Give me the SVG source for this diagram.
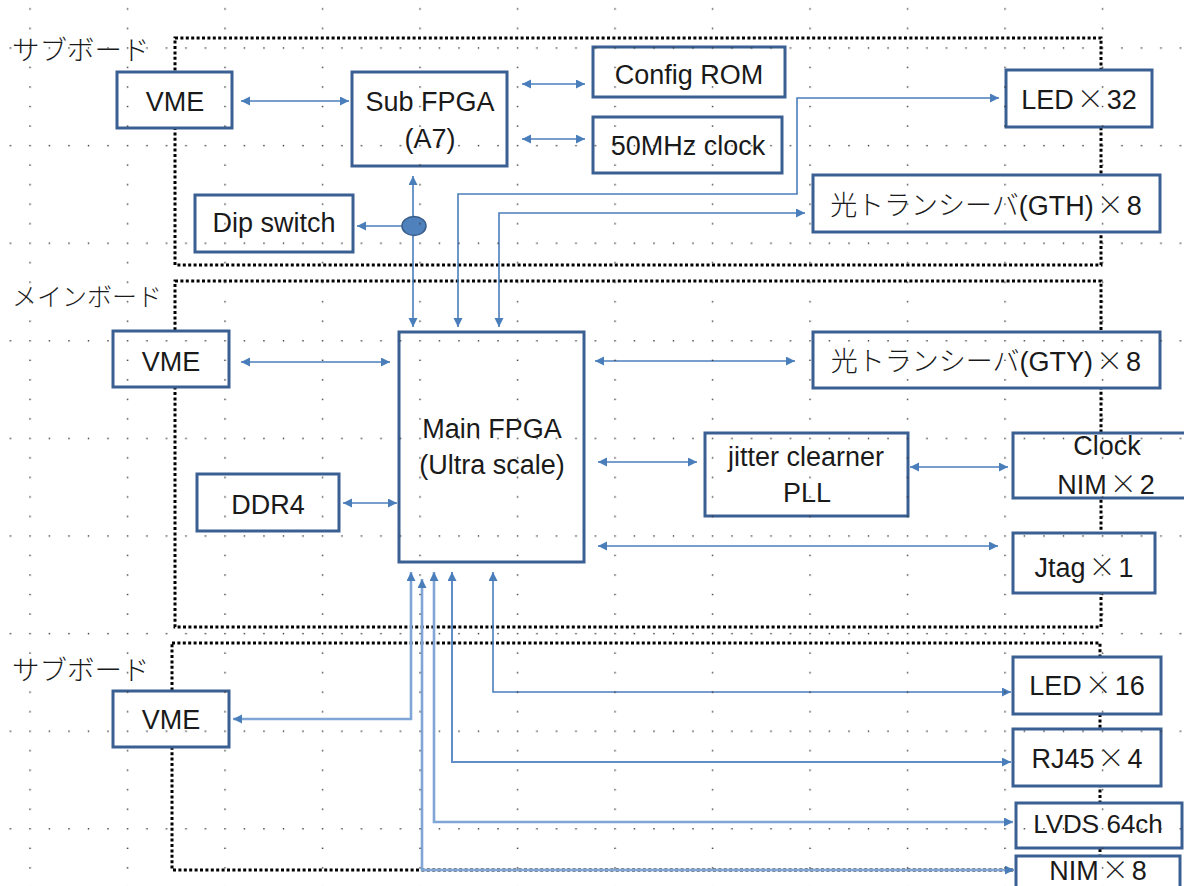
<svg xmlns="http://www.w3.org/2000/svg" width="1184" height="886" viewBox="0 0 1184 886">
  <style>
    .frame { fill: none; stroke: #000; stroke-width: 3; stroke-dasharray: 3 2.4; }
    .box { fill: #fff; stroke: #3a5f92; stroke-width: 3; }
    .lbl { font-family: "Liberation Sans", "Noto Sans CJK JP", sans-serif; font-size: 27px; fill: #1a1a1a; text-anchor: middle; }
    .jp { font-family: "Noto Sans CJK JP", sans-serif; font-weight: 300; }
    .board { font-family: "Noto Sans CJK JP", sans-serif; font-weight: 300; font-size: 27.5px; fill: #1a1a1a; }
    .wire { fill: none; stroke: #4a7ebb; stroke-width: 1.6; marker-end: url(#ah); }
    .both { marker-start: url(#ah); }
    .soft { stroke: #80a6d7; stroke-width: 2.6; }
    .mid { stroke: #5f8ecb; stroke-width: 2; }
  </style>
  <defs>
    <marker id="ah" markerUnits="userSpaceOnUse" markerWidth="10" markerHeight="10" refX="9" refY="4.5" orient="auto-start-reverse">
      <path d="M0,0 L9,4.5 L0,9 Z" fill="#4a7ebb"/>
    </marker>
    <pattern id="grid" patternUnits="userSpaceOnUse" x="29.3" y="47.3" width="97.5" height="97.6">
      <g fill="#333">
        <rect x="0" y="0" width="1.4" height="1.4"/>
        <rect x="19.5" y="0" width="1.4" height="1.4"/>
        <rect x="39" y="0" width="1.4" height="1.4"/>
        <rect x="58.5" y="0" width="1.4" height="1.4"/>
        <rect x="78" y="0" width="1.4" height="1.4"/>
        <rect x="0" y="19.52" width="1.4" height="1.4"/>
        <rect x="0" y="39.04" width="1.4" height="1.4"/>
        <rect x="0" y="58.56" width="1.4" height="1.4"/>
        <rect x="0" y="78.08" width="1.4" height="1.4"/>
      </g>
    </pattern>
  </defs>

  <rect width="1184" height="886" fill="#fff"/>

  <!-- board outlines -->
  <g id="boards">
    <rect class="frame" x="175" y="38" width="926" height="227"/>
    <rect class="frame" x="175" y="281" width="926" height="346"/>
    <rect class="frame" x="172" y="643" width="928" height="227"/>
    <text class="board" x="12" y="60">サブボード</text>
    <text class="board" x="12" y="306" style="font-size:25px">メインボード</text>
    <text class="board" x="12" y="680">サブボード</text>
  </g>

  <!-- connectors -->
  <g id="connectors">
    <path class="wire both" d="M241,101 H349"/>
    <path class="wire both" d="M522,84 H585"/>
    <path class="wire both" d="M522,139 H585"/>
    <path class="wire" d="M413,217 V176"/>
    <path class="wire" d="M402,226 H357"/>
    <path class="wire" d="M413,236 V327"/>
    <path class="wire both" d="M458,327 V194 H797 V98 H999"/>
    <path class="wire both" d="M499,327 V213 H805"/>

    <path class="wire both" d="M241,362 H390"/>
    <path class="wire both" d="M343,503 H397"/>
    <path class="wire both" d="M595,361 H795"/>
    <path class="wire both" d="M598,462 H697"/>
    <path class="wire both" d="M910,467 H1008"/>
    <path class="wire both" d="M598,546 H998"/>

    <path class="wire both soft" d="M411,572 V719 H233"/>
    <path class="wire both soft" d="M422,579 V870 H1014"/>
    <path class="wire both soft" d="M434,572 V822 H1013"/>
    <path class="wire both mid" d="M452,572 V762 H1011"/>
    <path class="wire both" d="M493,572 V692 H1011"/>

    <ellipse cx="414" cy="226" rx="12" ry="9.5" fill="#4f81bd" stroke="#385d8a" stroke-width="1.5"/>
  </g>

  <!-- sub board (upper) -->
  <g id="vme-top">
    <rect class="box" x="117" y="72" width="115" height="56"/>
    <text class="lbl" x="175" y="111">VME</text>
  </g>
  <g id="sub-fpga">
    <rect class="box" x="352" y="72" width="155" height="94"/>
    <text class="lbl" x="430" y="111">Sub FPGA</text>
    <text class="lbl" x="430" y="148">(A7)</text>
  </g>
  <g id="config-rom">
    <rect class="box" x="593" y="47" width="192" height="50"/>
    <text class="lbl" x="689" y="84">Config ROM</text>
  </g>
  <g id="clock50">
    <rect class="box" x="593" y="117" width="189" height="56"/>
    <text class="lbl" x="688" y="155">50MHz clock</text>
  </g>
  <g id="dip-switch">
    <rect class="box" x="195" y="195" width="158" height="57"/>
    <text class="lbl" x="274" y="232">Dip switch</text>
  </g>
  <g id="led32">
    <rect class="box" x="1006" y="70" width="146" height="57"/>
    <text class="lbl" x="1079" y="109">LED<tspan class="jp" dx="3">×</tspan><tspan dx="3">32</tspan></text>
  </g>
  <g id="gth">
    <rect class="box" x="813" y="175" width="347" height="57"/>
    <text class="lbl" x="986" y="215"><tspan class="jp">光トランシーバ</tspan>(GTH)<tspan class="jp" dx="3">×</tspan><tspan dx="3">8</tspan></text>
  </g>

  <!-- main board -->
  <g id="vme-main">
    <rect class="box" x="113" y="331" width="116" height="56"/>
    <text class="lbl" x="171" y="371">VME</text>
  </g>
  <g id="ddr4">
    <rect class="box" x="197" y="474" width="142" height="57"/>
    <text class="lbl" x="268" y="514">DDR4</text>
  </g>
  <g id="main-fpga">
    <rect class="box" x="399" y="332" width="185" height="230"/>
    <text class="lbl" x="492" y="438">Main FPGA</text>
    <text class="lbl" x="492" y="474">(Ultra scale)</text>
  </g>
  <g id="gty">
    <rect class="box" x="813" y="332" width="347" height="56"/>
    <text class="lbl" x="986" y="371"><tspan class="jp">光トランシーバ</tspan>(GTY)<tspan class="jp" dx="3">×</tspan><tspan dx="3">8</tspan></text>
  </g>
  <g id="jitter-pll">
    <rect class="box" x="705" y="433" width="203" height="83"/>
    <text class="lbl" x="806" y="466">jitter clearner</text>
    <text class="lbl" x="807" y="502">PLL</text>
  </g>
  <g id="clock-nim">
    <rect class="box" x="1013" y="433" width="180" height="65"/>
    <text class="lbl" x="1107" y="455">Clock</text>
    <text class="lbl" x="1106" y="494">NIM<tspan class="jp" dx="3">×</tspan><tspan dx="3">2</tspan></text>
  </g>
  <g id="jtag">
    <rect class="box" x="1013" y="533" width="142" height="60"/>
    <text class="lbl" x="1084" y="577">Jtag<tspan class="jp" dx="3">×</tspan><tspan dx="3">1</tspan></text>
  </g>

  <!-- sub board (lower) -->
  <g id="vme-bottom">
    <rect class="box" x="113" y="691" width="116" height="56"/>
    <text class="lbl" x="171" y="729">VME</text>
  </g>
  <g id="led16">
    <rect class="box" x="1013" y="657" width="148" height="57"/>
    <text class="lbl" x="1087" y="695">LED<tspan class="jp" dx="3">×</tspan><tspan dx="3">16</tspan></text>
  </g>
  <g id="rj45">
    <rect class="box" x="1013" y="729" width="148" height="57"/>
    <text class="lbl" x="1087" y="768">RJ45<tspan class="jp" dx="3">×</tspan><tspan dx="3">4</tspan></text>
  </g>
  <g id="lvds">
    <rect class="box" x="1016" y="803" width="166" height="45"/>
    <text class="lbl" x="1098" y="833" style="font-size:26px">LVDS 64ch</text>
  </g>
  <g id="nim8">
    <rect class="box" x="1016" y="856" width="164" height="45"/>
    <text class="lbl" x="1098" y="880">NIM<tspan class="jp" dx="3">×</tspan><tspan dx="3">8</tspan></text>
  </g>

  <!-- drawing grid overlay -->
  <rect width="1184" height="886" fill="url(#grid)" pointer-events="none"/>
</svg>
